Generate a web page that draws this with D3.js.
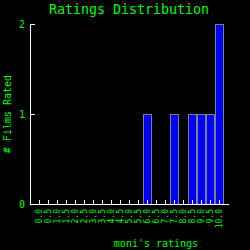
<!DOCTYPE html>
<html><head><meta charset="utf-8">
<script src="https://cdn.jsdelivr.net/npm/d3@7"></script>
<style>
html,body{margin:0;padding:0;background:#000;}
svg{display:block;}
text{font-family:"DejaVu Sans Mono",monospace;}
</style></head>
<body>
<script>
const categories = ["0.0","0.5","1.0","1.5","2.0","2.5","3.0","3.5","4.0","4.5","5.0","5.5","6.0","6.5","7.0","7.5","8.0","8.5","9.0","9.5","10.0"];
const counts = [0,0,0,0,0,0,0,0,0,0,0,0,1,0,0,1,0,1,1,1,2];
const yTicks = [0,1,2];
const title = "Ratings Distribution";
const xLabel = "moni's ratings";
const yLabel = "# Films Rated";

const W = 250, H = 250;
const green = "#00ff00";
const svg = d3.select("body").append("svg").attr("width", W).attr("height", H)
  .style("background", "#000");

const x = d3.scalePoint().domain(categories).range([39, 219]);
const y = d3.scaleLinear().domain([0, 2]).range([204, 24]);

// bars
svg.append("g").selectAll("rect").data(categories.map((c,i)=>({c, v: counts[i]})).filter(d=>d.v>0))
  .join("rect")
  .attr("x", d => x(d.c) + 0.5 - 4)
  .attr("y", d => y(d.v) + 0.5)
  .attr("width", 8)
  .attr("height", d => y(0) - y(d.v))
  .attr("fill", "#0000ff")
  .attr("stroke", "#808080")
  .attr("stroke-width", 1);

// x axis
const gx = svg.append("g").attr("transform", "translate(0,204)")
  .call(d3.axisBottom(x).tickSizeInner(-4).tickSizeOuter(0));
gx.select(".domain").remove();
gx.selectAll(".tick line").attr("stroke", "#fff");
gx.selectAll(".tick text")
  .attr("fill", green)
  .attr("font-size", 8)
  .attr("transform", "rotate(-90)")
  .attr("x", -5).attr("y", 0).attr("dy", "0.32em")
  .attr("text-anchor", "end");
svg.append("line").attr("x1", 30).attr("x2", 229).attr("y1", 204.5).attr("y2", 204.5)
  .attr("stroke", "#fff");

// y axis
const gy = svg.append("g").attr("transform", "translate(30,0)")
  .call(d3.axisLeft(y).tickValues(yTicks).tickFormat(d3.format("d")).tickSizeInner(-5).tickSizeOuter(0).tickPadding(5));
gy.select(".domain").attr("stroke", "#fff");
gy.selectAll(".tick line").attr("stroke", "#fff");
gy.selectAll(".tick text").attr("fill", green).attr("font-size", 10);

// title & labels
svg.append("text").attr("x", 129).attr("y", 14).attr("text-anchor", "middle")
  .attr("fill", green).attr("font-size", 13.3).text(title);
svg.append("text").attr("x", 156).attr("y", 247).attr("text-anchor", "middle")
  .attr("fill", green).attr("font-size", 10).text(xLabel);
svg.append("text").attr("transform", "translate(11,114) rotate(-90)").attr("text-anchor", "middle")
  .attr("fill", green).attr("font-size", 10).text(yLabel);
</script>
</body></html>
